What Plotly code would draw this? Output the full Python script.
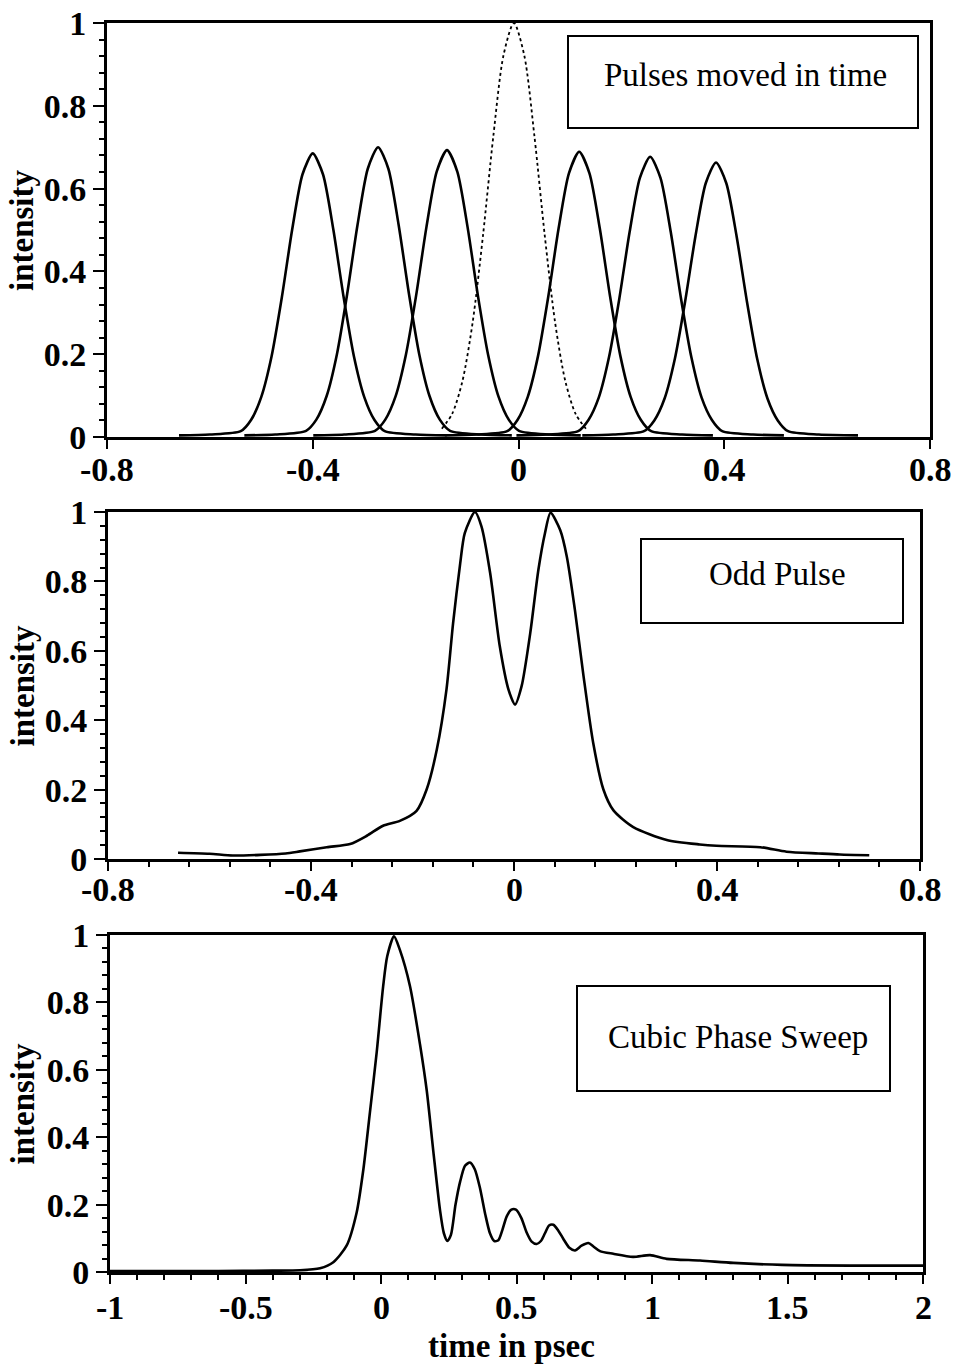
import plotly.graph_objects as go

# ---------------- data ----------------
# Panel 1: pulses moved in time (six solid pulses + dotted reference pulse)
p1_x = [-0.66, -0.60, -0.54, -0.52, -0.50, -0.48, -0.46, -0.44, -0.42, -0.40, -0.38, -0.36, -0.34, -0.32, -0.30, -0.28, -0.26, -0.20, -0.14]
p1_y = [0.004, 0.006, 0.014, 0.041, 0.097, 0.195, 0.338, 0.501, 0.634, 0.685, 0.634, 0.501, 0.338, 0.195, 0.097, 0.041, 0.014, 0.006, 0.004]
p2_x = [-0.533, -0.473, -0.413, -0.393, -0.373, -0.353, -0.333, -0.313, -0.293, -0.273, -0.253, -0.233, -0.213, -0.193, -0.173, -0.153, -0.133, -0.073, -0.013]
p2_y = [0.004, 0.006, 0.015, 0.042, 0.099, 0.200, 0.346, 0.512, 0.648, 0.700, 0.648, 0.512, 0.346, 0.200, 0.099, 0.042, 0.015, 0.006, 0.004]
p3_x = [-0.399, -0.339, -0.279, -0.259, -0.239, -0.219, -0.199, -0.179, -0.159, -0.139, -0.119, -0.099, -0.079, -0.059, -0.039, -0.019, 0.001, 0.061, 0.121]
p3_y = [0.004, 0.006, 0.015, 0.042, 0.098, 0.198, 0.342, 0.507, 0.641, 0.693, 0.641, 0.507, 0.342, 0.198, 0.098, 0.042, 0.015, 0.006, 0.004]
p4_x = [-0.142, -0.082, -0.022, -0.002, 0.018, 0.038, 0.058, 0.078, 0.098, 0.118, 0.138, 0.158, 0.178, 0.198, 0.218, 0.238, 0.258, 0.318, 0.378]
p4_y = [0.004, 0.006, 0.014, 0.041, 0.097, 0.196, 0.340, 0.504, 0.637, 0.689, 0.637, 0.504, 0.340, 0.196, 0.097, 0.041, 0.014, 0.006, 0.004]
p5_x = [-0.004, 0.056, 0.116, 0.136, 0.156, 0.176, 0.196, 0.216, 0.236, 0.256, 0.276, 0.296, 0.316, 0.336, 0.356, 0.376, 0.396, 0.456, 0.516]
p5_y = [0.004, 0.006, 0.014, 0.041, 0.095, 0.193, 0.334, 0.495, 0.626, 0.677, 0.626, 0.495, 0.334, 0.193, 0.095, 0.041, 0.014, 0.006, 0.004]
p6_x = [0.124, 0.184, 0.244, 0.264, 0.284, 0.304, 0.324, 0.344, 0.364, 0.384, 0.404, 0.424, 0.444, 0.464, 0.484, 0.504, 0.524, 0.584, 0.660]
p6_y = [0.004, 0.006, 0.014, 0.040, 0.093, 0.189, 0.328, 0.485, 0.613, 0.663, 0.613, 0.485, 0.328, 0.189, 0.093, 0.040, 0.014, 0.006, 0.004]
ref_x = [-0.149, -0.129, -0.109, -0.089, -0.069, -0.049, -0.029, -0.009, 0.011, 0.031, 0.051, 0.071, 0.091, 0.111, 0.131]
ref_y = [0.020, 0.056, 0.135, 0.278, 0.487, 0.726, 0.923, 1.000, 0.923, 0.726, 0.487, 0.278, 0.135, 0.056, 0.020]

# Panel 2: odd pulse
odd_x = [-0.662, -0.60, -0.554, -0.50, -0.45, -0.422, -0.369, -0.323, -0.290, -0.258, -0.225, -0.192,
         -0.172, -0.152, -0.133, -0.120, -0.106, -0.097, -0.077, -0.064, -0.047, -0.028, -0.011, 0.002,
         0.015, 0.032, 0.048, 0.061, 0.072, 0.091, 0.104, 0.120, 0.137, 0.156, 0.176, 0.196, 0.235,
         0.301, 0.366, 0.399, 0.485, 0.537, 0.60, 0.642, 0.70]
odd_y = [0.018, 0.015, 0.010, 0.012, 0.016, 0.022, 0.034, 0.043, 0.067, 0.096, 0.110, 0.139,
         0.201, 0.316, 0.489, 0.680, 0.852, 0.939, 1.000, 0.958, 0.824, 0.613, 0.489, 0.445,
         0.498, 0.651, 0.833, 0.939, 0.998, 0.948, 0.872, 0.718, 0.527, 0.335, 0.201, 0.140, 0.092,
         0.055, 0.042, 0.038, 0.034, 0.021, 0.016, 0.013, 0.011]

# Panel 3: cubic phase sweep
cub_x = [-1.0, -0.6, -0.40, -0.299, -0.225, -0.176, -0.127, -0.090, -0.065, -0.041, -0.016, 0.008,
         0.023, 0.048, 0.070, 0.107, 0.144, 0.169, 0.193, 0.218, 0.232, 0.245, 0.258, 0.275, 0.292,
         0.310, 0.328, 0.346, 0.365, 0.385, 0.402, 0.418, 0.433, 0.448, 0.464, 0.481, 0.498, 0.518,
         0.537, 0.556, 0.574, 0.590, 0.605, 0.620, 0.636, 0.655, 0.673, 0.695, 0.716, 0.740, 0.765,
         0.785, 0.808, 0.857, 0.930, 0.993, 1.054, 1.177, 1.30, 1.48, 1.73, 2.0]
cub_y = [0.003, 0.003, 0.004, 0.005, 0.011, 0.029, 0.078, 0.176, 0.305, 0.473, 0.651, 0.848,
         0.937, 0.996, 0.955, 0.848, 0.675, 0.537, 0.359, 0.182, 0.115, 0.092, 0.110, 0.200, 0.268,
         0.315, 0.325, 0.305, 0.250, 0.170, 0.115, 0.092, 0.094, 0.125, 0.165, 0.185, 0.185, 0.160,
         0.118, 0.090, 0.083, 0.092, 0.115, 0.138, 0.140, 0.122, 0.098, 0.072, 0.064, 0.078, 0.086,
         0.075, 0.062, 0.054, 0.045, 0.050, 0.039, 0.034, 0.027, 0.021, 0.019, 0.019]

# tick labels
y_ticks = [0, 0.2, 0.4, 0.6, 0.8, 1]
y_labels = ["0", "0.2", "0.4", "0.6", "0.8", "1"]
x12_ticks = [-0.8, -0.4, 0, 0.4, 0.8]
x12_labels = ["-0.8", "-0.4", "0", "0.4", "0.8"]
x3_ticks = [-1, -0.5, 0, 0.5, 1, 1.5, 2]
x3_labels = ["-1", "-0.5", "0", "0.5", "1", "1.5", "2"]

# ---------------- figure ----------------
W, H = 957, 1366
SERIF = "Liberation Serif"
tickfont = dict(family=SERIF, size=34, color="black", weight="bold")


def dx(l, r):
    return [l / W, r / W]


def dy(t, b):
    return [1 - b / H, 1 - t / H]


fig = go.Figure()
LINE = dict(color="black", width=2.6, shape="spline", smoothing=0.7)

for xs, ys in [(p1_x, p1_y), (p2_x, p2_y), (p3_x, p3_y), (p4_x, p4_y), (p5_x, p5_y), (p6_x, p6_y)]:
    fig.add_trace(go.Scatter(x=xs, y=ys, mode="lines", line=LINE, xaxis="x", yaxis="y", hoverinfo="skip"))
fig.add_trace(go.Scatter(x=ref_x, y=ref_y, mode="lines",
                         line=dict(color="black", width=1.8, dash="dot", shape="spline", smoothing=0.8),
                         xaxis="x", yaxis="y", hoverinfo="skip"))
fig.add_trace(go.Scatter(x=odd_x, y=odd_y, mode="lines", line=LINE, xaxis="x2", yaxis="y2", hoverinfo="skip"))
fig.add_trace(go.Scatter(x=cub_x, y=cub_y, mode="lines", line=LINE, xaxis="x3", yaxis="y3", hoverinfo="skip"))


def xax(domain, rng, vals, anchor, minor_dtick):
    d = dict(domain=domain, range=rng, anchor=anchor, tickvals=vals, showticklabels=False,
             ticks="outside", ticklen=9, tickwidth=2, tickcolor="black",
             showline=True, linewidth=2.8, linecolor="black", mirror=True,
             showgrid=False, zeroline=False, fixedrange=True, automargin=False)
    if minor_dtick:
        d["minor"] = dict(dtick=minor_dtick, ticks="outside", ticklen=5, tickwidth=1.5,
                          tickcolor="black", showgrid=False)
    return d


def yax(domain, anchor):
    return dict(domain=domain, range=[0, 1], anchor=anchor, tickvals=y_ticks, ticktext=y_labels,
                ticks="outside", ticklen=11, tickwidth=2, tickcolor="black",
                showline=True, linewidth=2.8, linecolor="black", mirror=True,
                showgrid=False, zeroline=False, tickfont=tickfont, fixedrange=True,
                automargin=False,
                minor=dict(dtick=0.04, ticks="outside", ticklen=5, tickwidth=1.5,
                           tickcolor="black", showgrid=False))


P1 = (107, 930, 23, 437)
P2 = (108, 920, 512, 859)
P3 = (110, 923, 935, 1272)

fig.update_layout(
    width=W, height=H,
    margin=dict(l=0, r=0, t=0, b=0, autoexpand=False),
    paper_bgcolor="white", plot_bgcolor="white",
    showlegend=False,
    xaxis=xax(dx(P1[0], P1[1]), [-0.8, 0.8], x12_ticks, "y", None),
    yaxis=yax(dy(P1[2], P1[3]), "x"),
    xaxis2=xax(dx(P2[0], P2[1]), [-0.8, 0.8], x12_ticks, "y2", 0.08),
    yaxis2=yax(dy(P2[2], P2[3]), "x2"),
    xaxis3=xax(dx(P3[0], P3[1]), [-1, 2], x3_ticks, "y3", 0.1),
    yaxis3=yax(dy(P3[2], P3[3]), "x3"),
)

# x tick labels (placed as text just under each axis)
for xref, vals, texts, ypix in (("x", x12_ticks, x12_labels, 469),
                                ("x2", x12_ticks, x12_labels, 889),
                                ("x3", x3_ticks, x3_labels, 1307)):
    for v, t in zip(vals, texts):
        fig.add_annotation(text=t, xref=xref, yref="paper", x=v, y=1 - ypix / H,
                           showarrow=False, xanchor="center", yanchor="middle",
                           font=tickfont)

# y-axis titles
for (l, r, t, b) in (P1, P2, P3):
    fig.add_annotation(text="intensity", textangle=-90, xref="paper", yref="paper",
                       x=22 / W, y=1 - ((t + b) / 2) / H, showarrow=False,
                       font=dict(family=SERIF, size=33, color="black", weight="bold"),
                       xanchor="center", yanchor="middle")

# x-axis title
fig.add_annotation(text="time in psec", xref="paper", yref="paper", x=511 / W, y=1 - 1346 / H,
                   showarrow=False, xanchor="center", yanchor="middle",
                   font=dict(family=SERIF, size=33, color="black", weight="bold"))

# label boxes
boxes = [
    ("Pulses moved in time", (568, 918, 36, 128), (745, 75)),
    ("Odd Pulse", (641, 903, 539, 623), (777, 574)),
    ("Cubic Phase Sweep", (577, 890, 986, 1091), (738, 1037)),
]
for text, (l, r, t, b), (cx, cy) in boxes:
    fig.add_shape(type="rect", xref="paper", yref="paper",
                  x0=l / W, x1=r / W, y0=1 - b / H, y1=1 - t / H,
                  line=dict(color="black", width=2), fillcolor="rgba(0,0,0,0)")
    fig.add_annotation(text=text, xref="paper", yref="paper", x=cx / W, y=1 - cy / H,
                       showarrow=False, xanchor="center", yanchor="middle",
                       font=dict(family=SERIF, size=33, color="black"))

fig.write_html("out.html")
